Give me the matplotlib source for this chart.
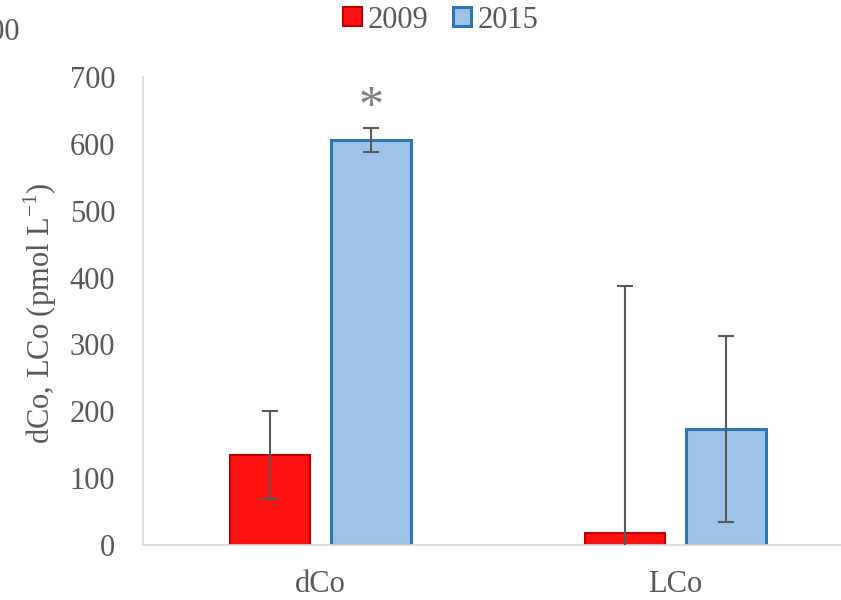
import matplotlib as mpl
mpl.use('Agg')
import matplotlib.pyplot as plt
import matplotlib.patches as mpatches
import numpy as np

categories = ['dCo', 'LCo']
years = ['2009', '2015']
vals2009 = [135, 18]
vals2015 = [606, 173]
err2009 = [66, 369]
err2015 = [18, 139]

plt.rcParams['font.family'] = ['Liberation Serif', 'DejaVu Serif']
plt.rcParams['mathtext.fontset'] = 'custom'
plt.rcParams['mathtext.rm'] = 'Liberation Serif'
grey = '#595959'
red_face, red_edge = '#FF1010', '#C00000'
blue_face, blue_edge = '#9DC3E6', '#2E75B6'

fg = plt.figure(figsize=(8.41, 6), dpi=100)
ax = fg.add_axes([143/841, 55/600, 710/841, 468/600])

x = np.arange(len(categories))
w = 0.225
off = 0.142
ax.bar(x - off, vals2009, w, color=red_face, edgecolor=red_edge, linewidth=1.5, zorder=2)
ax.bar(x + off, vals2015, w, color=blue_face, edgecolor=blue_edge, linewidth=2.2, zorder=2)
ax.errorbar(x - off, vals2009, yerr=err2009, fmt='none', ecolor=grey, elinewidth=1.5,
            capsize=6, capthick=1.5, zorder=3)
ax.errorbar(x + off, vals2015, yerr=err2015, fmt='none', ecolor=grey, elinewidth=1.5,
            capsize=6, capthick=1.5, zorder=3)

# significance marker
ax.annotate('*', xy=(x[0] + off, vals2015[0] + err2015[0]), xytext=(0, -2),
            textcoords='offset points', ha='center', va='bottom', fontsize=36, color='#7F7F7F')

ax.set_xlim(-0.5, 1.5)
ax.set_ylim(0, 700)
ax.set_yticks(range(0, 701, 100))
ax.set_xticks(x)
ax.set_xticklabels(categories)
ax.tick_params(axis='both', length=0, labelsize=22, labelcolor=grey)
ax.tick_params(axis='y', pad=20)
ax.tick_params(axis='x', pad=18)
for s in ['top', 'right']:
    ax.spines[s].set_visible(False)
for s in ['left', 'bottom']:
    ax.spines[s].set_color('#D9D9D9')
    ax.spines[s].set_linewidth(1.2)

fg.text(40/841, 1 - 313/600, r'dCo, LCo (pmol L$^{\mathrm{-1}}$)', rotation=90,
        ha='center', va='center', fontsize=22, color=grey)

handles = [mpatches.Patch(facecolor=red_face, edgecolor=red_edge, linewidth=1.5),
           mpatches.Patch(facecolor=blue_face, edgecolor=blue_edge, linewidth=2.2)]
leg = fg.legend(handles, years, loc='center', bbox_to_anchor=(0.524, 1 - 20/600), ncol=2,
                frameon=False, fontsize=22, handlelength=0.6, handleheight=0.6,
                handletextpad=0.2, columnspacing=0.8)
for t in leg.get_texts():
    t.set_color(grey)

# clipped label left over at top-left corner (cut off in the original too)
fg.text(20/841, 1 - 32/600, '800', ha='right', va='center', fontsize=22, color=grey)

fg.savefig('out.png', dpi=100)
